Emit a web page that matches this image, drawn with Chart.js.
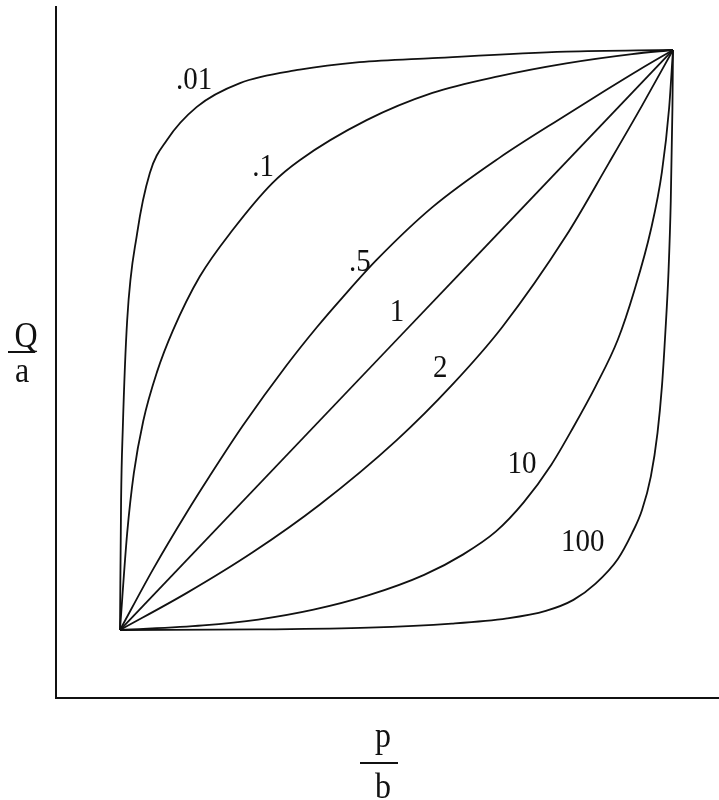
<!DOCTYPE html>
<html>
<head>
<meta charset="utf-8">
<script src="https://cdn.jsdelivr.net/npm/chart.js@4.4.1/dist/chart.umd.min.js"></script>
<style>
html, body { margin: 0; padding: 0; background: #fff; }
</style>
</head>
<body>
<canvas id="myChart" width="719" height="800"></canvas>
<script>
// curve names, in the order they are drawn
var curveNames = [".01", ".1", ".5", "1", "2", "10", "100"];

// p/b and Q/a values
var pDot01 = [0, 0.002, 0.005, 0.013, 0.031, 0.054, 0.085, 0.139, 0.217, 0.325, 0.433, 0.565, 0.807, 1];
var qDot01 = [0, 0.224, 0.345, 0.534, 0.684, 0.788, 0.845, 0.902, 0.943, 0.966, 0.979, 0.986, 0.997, 1];

var pDot1 = [0, 0.013, 0.025, 0.042, 0.067, 0.096, 0.144, 0.204, 0.276, 0.325, 0.446, 0.565, 0.686, 0.807, 0.926, 1];
var qDot1 = [0, 0.167, 0.270, 0.360, 0.445, 0.517, 0.609, 0.690, 0.771, 0.810, 0.879, 0.926, 0.955, 0.977, 0.993, 1];

var pDot5 = [0, 0.060, 0.121, 0.162, 0.222, 0.301, 0.356, 0.403, 0.464, 0.565, 0.686, 0.807, 0.879, 0.939, 1];
var qDot5 = [0, 0.105, 0.203, 0.265, 0.352, 0.456, 0.522, 0.574, 0.638, 0.729, 0.814, 0.888, 0.931, 0.966, 1];

var pOne = [0, 0.5, 1];
var qOne = [0, 0.5, 1];

var pTwo = [0, 0.121, 0.240, 0.361, 0.500, 0.601, 0.691, 0.807, 0.884, 0.944, 1];
var qTwo = [0, 0.064, 0.134, 0.216, 0.327, 0.423, 0.522, 0.680, 0.805, 0.904, 1];

var pTen = [0, 0.15, 0.25, 0.35, 0.45, 0.55, 0.62, 0.68, 0.73, 0.78, 0.82, 0.86, 0.90, 0.93, 0.96, 0.98, 0.993, 1];
var qTen = [0, 0.008, 0.018, 0.035, 0.060, 0.095, 0.130, 0.170, 0.220, 0.285, 0.350, 0.420, 0.500, 0.585, 0.690, 0.790, 0.900, 1];

var pHundred = [0, 0.25, 0.45, 0.60, 0.70, 0.77, 0.82, 0.86, 0.90, 0.926, 0.944, 0.960, 0.972, 0.980, 0.986, 0.992, 0.996, 0.999, 1];
var qHundred = [0, 0.001, 0.004, 0.011, 0.020, 0.033, 0.052, 0.080, 0.122, 0.167, 0.207, 0.265, 0.340, 0.420, 0.510, 0.620, 0.740, 0.900, 1];

// where each curve name sits, in p/b and Q/a units
var labelP = [0.134, 0.259, 0.434, 0.501, 0.579, 0.727, 0.837];
var labelQ = [0.950, 0.800, 0.636, 0.550, 0.453, 0.288, 0.153];

var curvesP = [pDot01, pDot1, pDot5, pOne, pTwo, pTen, pHundred];
var curvesQ = [qDot01, qDot1, qDot5, qOne, qTwo, qTen, qHundred];

var SERIF = '"Liberation Serif", "Times New Roman", serif';

function toPoints(ps, qs) {
	var pts = [];
	for (var i = 0; i < ps.length; i++) pts.push({x: ps[i], y: qs[i]});
	return pts;
}

var datasets = [];
for (var i = 0; i < curveNames.length; i++) {
	datasets.push({
		label: curveNames[i],
		data: toPoints(curvesP[i], curvesQ[i]),
		showLine: true,
		borderColor: "#111",
		borderWidth: 1.8,
		pointRadius: 0,
		cubicInterpolationMode: "monotone",
		fill: false
	});
}

// draw text stretched a little in height, like the scanned figure
function stretchText(ctx, txt, x, y, size) {
	ctx.save();
	ctx.translate(x, y);
	ctx.scale(1, 1.12);
	ctx.font = size + "px " + SERIF;
	ctx.fillText(txt, 0, 0);
	ctx.restore();
}

var textPlugin = {
	id: "curveText",
	afterDraw: function(chart) {
		var ctx = chart.ctx;
		var xs = chart.scales.x, ys = chart.scales.y;
		var area = chart.chartArea;
		ctx.save();
		ctx.fillStyle = "#111";
		ctx.strokeStyle = "#111";
		ctx.textAlign = "center";
		ctx.textBaseline = "alphabetic";

		for (var i = 0; i < curveNames.length; i++) {
			var x = xs.getPixelForValue(labelP[i]);
			var y = ys.getPixelForValue(labelQ[i]);
			stretchText(ctx, curveNames[i], x, y + 10, 29);
		}

		// Q over a, left of the y axis
		var qx = area.left - 34;
		stretchText(ctx, "Q", qx + 4, 347, 32);
		ctx.lineWidth = 2;
		ctx.beginPath();
		ctx.moveTo(area.left - 48, 352);
		ctx.lineTo(area.left - 21, 352);
		ctx.stroke();
		stretchText(ctx, "a", qx, 382, 32);

		// p over b, under the x axis
		var barY = area.bottom + 65;
		ctx.beginPath();
		ctx.moveTo(360, barY);
		ctx.lineTo(398, barY);
		ctx.stroke();
		stretchText(ctx, "p", 383, barY - 16, 32);
		stretchText(ctx, "b", 383, barY + 35, 32);
		ctx.restore();
	}
};

var myChart = new Chart("myChart", {
	type: "scatter",
	data: { datasets: datasets },
	options: {
		responsive: false,
		animation: false,
		layout: { padding: { left: 56, top: 7, right: 0, bottom: 102 } },
		plugins: {
			legend: { display: false },
			tooltip: { enabled: false }
		},
		scales: {
			x: {
				type: "linear",
				min: -0.1157,
				max: 1.0832,
				grid: { display: false, drawTicks: false },
				ticks: { display: false },
				border: { display: true, color: "#111", width: 2 }
			},
			y: {
				type: "linear",
				min: -0.1172,
				max: 1.0741,
				grid: { display: false, drawTicks: false },
				ticks: { display: false },
				border: { display: true, color: "#111", width: 2 }
			}
		}
	},
	plugins: [textPlugin]
});
</script>
</body>
</html>
